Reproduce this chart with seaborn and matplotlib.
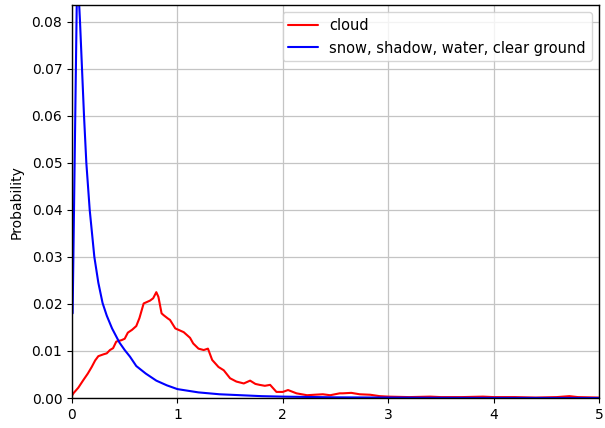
"""Distribuicao de probabilidade das duas classes (nuvem vs. resto)."""
import pandas as pd
import seaborn as sns
import matplotlib
matplotlib.use("Agg")
import matplotlib.pyplot as plt

# Valores
cloud_x = [0.0, 0.013, 0.06, 0.107, 0.15, 0.187, 0.22, 0.25, 0.30, 0.33, 0.36, 0.39, 0.42,
           0.47, 0.50, 0.53, 0.57, 0.61, 0.64, 0.68, 0.71, 0.74, 0.77, 0.80, 0.82,
           0.85, 0.87, 0.91, 0.93, 0.98, 1.02, 1.06, 1.09, 1.12, 1.15, 1.20, 1.25,
           1.29, 1.33, 1.39, 1.44, 1.50, 1.56, 1.63, 1.69, 1.74, 1.78, 1.83, 1.88,
           1.94, 2.0, 2.05, 2.13, 2.23, 2.30, 2.38, 2.45, 2.54, 2.57, 2.65, 2.73,
           2.83, 2.92, 3.0, 3.2, 3.4, 3.5, 3.7, 3.9, 4.0, 4.2, 4.4, 4.6, 4.72, 4.8, 5.0]
cloud_y = [0.0005, 0.001, 0.0022, 0.0038, 0.0052, 0.0066, 0.0080, 0.0089, 0.0093, 0.0095,
           0.0102, 0.0106, 0.0120, 0.0123, 0.0126, 0.0139, 0.0145, 0.0153, 0.0170, 0.0201,
           0.0204, 0.0207, 0.0212, 0.0225, 0.0215, 0.0180, 0.0176, 0.0169, 0.0166, 0.0148,
           0.0144, 0.0140, 0.0134, 0.0128, 0.0116, 0.0105, 0.0102, 0.0105, 0.0081, 0.0066,
           0.0059, 0.0042, 0.0035, 0.0031, 0.0037, 0.0030, 0.0028, 0.0026, 0.0028, 0.0013,
           0.0013, 0.0017, 0.0010, 0.0006, 0.0007, 0.0008, 0.0006, 0.0010, 0.0010, 0.0011,
           0.0008, 0.0007, 0.0004, 0.0003, 0.0002, 0.0003, 0.0002, 0.0002, 0.0003, 0.0002,
           0.0002, 0.0001, 0.0002, 0.0004, 0.0002, 0.0001]

other_x = [0.006, 0.05, 0.076, 0.095, 0.114, 0.136, 0.168, 0.212, 0.25, 0.29, 0.33,
           0.38, 0.45, 0.50, 0.55, 0.61, 0.70, 0.80, 0.90, 1.0, 1.2, 1.4, 1.6, 1.8,
           2.0, 2.5, 3.0, 3.5, 4.0, 4.5, 5.0]
other_y = [0.018, 0.092, 0.080, 0.070, 0.060, 0.050, 0.040, 0.030, 0.0245, 0.0202,
           0.0175, 0.0148, 0.0118, 0.0102, 0.0088, 0.0068, 0.0052, 0.0037, 0.0027,
           0.0019, 0.0012, 0.0008, 0.0006, 0.0004, 0.0003, 0.00015, 0.0001, 0.00005,
           0.00003, 0.00002, 0.00001]

labels = ["cloud", "snow, shadow, water, clear ground"]

df = pd.concat([
    pd.DataFrame({"x": cloud_x, "y": cloud_y, "classe": labels[0]}),
    pd.DataFrame({"x": other_x, "y": other_y, "classe": labels[1]}),
])

sns.set_style("ticks")
plt.rcParams["font.family"] = ["DejaVu Sans"]
plt.rcParams["text.color"] = "black"
plt.rcParams["axes.labelcolor"] = "black"
plt.rcParams["xtick.color"] = "black"
plt.rcParams["ytick.color"] = "black"

fig = plt.figure(figsize=(6.05, 4.28), dpi=100)
ax = fig.add_axes([0.119, 0.070, 0.871, 0.918])

sns.lineplot(data=df, x="x", y="y", hue="classe", palette=["red", "blue"],
             sort=False, estimator=None, linewidth=1.5, ax=ax)

ax.set_xlim(0, 5)
ax.set_ylim(0, 0.0835)
ax.set_yticks([0.0, 0.01, 0.02, 0.03, 0.04, 0.05, 0.06, 0.07, 0.08])
ax.set_yticklabels(["0.00", "0.01", "0.02", "0.03", "0.04", "0.05", "0.06", "0.07", "0.08"])
ax.set_xlabel("")
ax.set_ylabel("Probability", fontsize=10, labelpad=6)
ax.tick_params(labelsize=10, direction="out", length=3.5, color="black")
ax.grid(True, color="#c4c4c4", linewidth=0.9)
for s in ax.spines.values():
    s.set_color("black")
    s.set_linewidth(1.0)
ax.legend(loc="upper right", fontsize=10.5, title=None, frameon=True)

fig.savefig("out.png", dpi=100)
